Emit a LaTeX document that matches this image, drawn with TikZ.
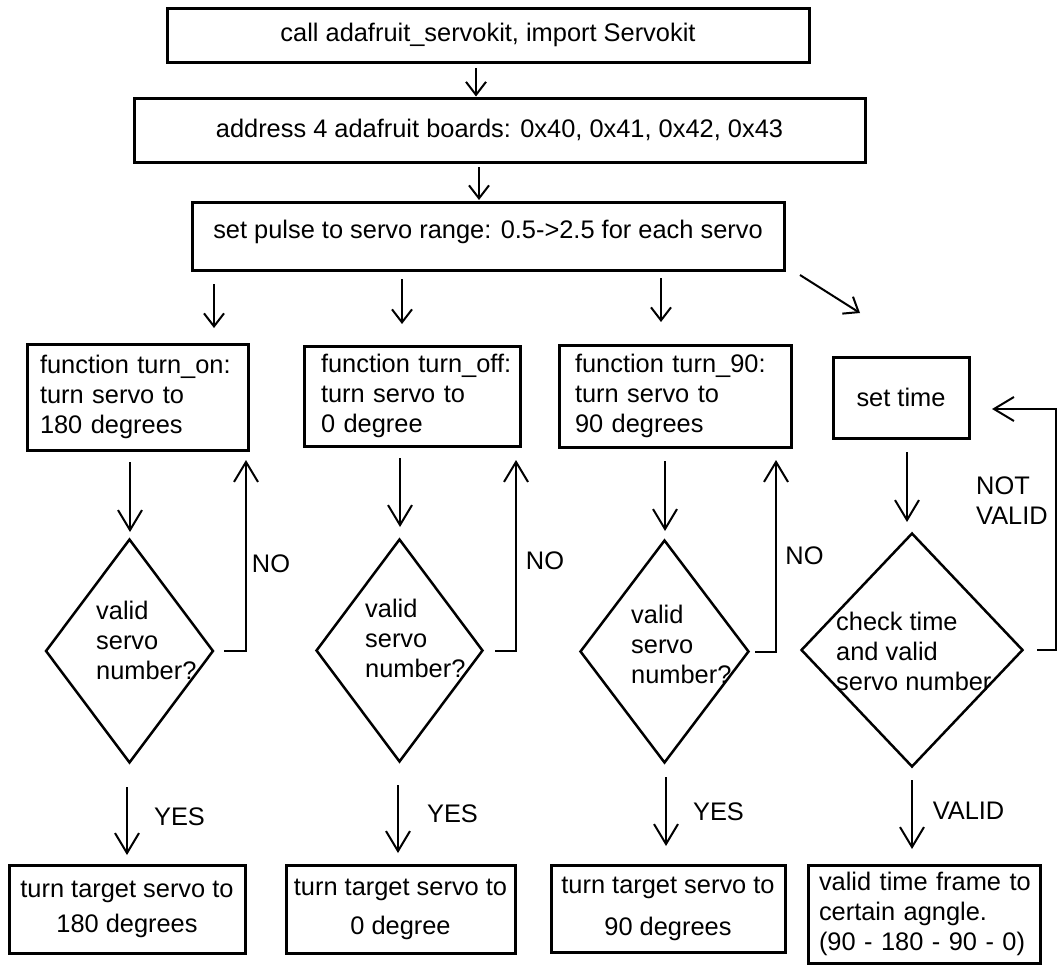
\documentclass[tikz,border=0pt]{standalone}
\usepackage{fontspec}
\setmainfont{Liberation Sans}
\usetikzlibrary{arrows.meta,shapes.geometric,calc}

\begin{document}
\begin{tikzpicture}[x=1pt, y=-1pt,
    every node/.style={inner sep=0pt, font=\fontsize{25.4}{30}\selectfont},
    box/.style={draw, line width=3pt, align=center},
    lbox/.style={draw, line width=3pt, align=left},
    dia/.style={diamond, draw, line width=2.5pt},
    arr/.style={line width=2pt, -{Straight Barb[length=20pt, width=24pt]}},
    arrs/.style={line width=2pt, -{Straight Barb[length=13pt, width=20pt]}}]
  \useasboundingbox (0,0) rectangle (1057,964); % page size of the sketch

  \node[box, minimum width=642pt, minimum height=54pt] (kit) at (488,35) {call adafruit\_servokit, import Servokit};
  \node[box, minimum width=731pt, minimum height=64pt] (addr) at (499.5,130) {address 4 adafruit boards: 0x40, 0x41, 0x42, 0x43};
  \node[box, minimum width=592pt, minimum height=68pt, text depth=14pt] (pulse) at (488,236) {set pulse to servo range: 0.5->2.5 for each servo};

  \draw[arrs, shorten <=4.5pt] (kit.south -| 476,0) -- (addr.north -| 476,0);
  \draw[arrs, shorten <=3.5pt, shorten >=0.5pt] (addr.south -| 479,0) -- (pulse.north -| 479,0);

 % -------------------

  \node[lbox, minimum height=106pt, text width=195pt, inner xsep=13pt] (on) at (137.5,397) {\mbox{function turn\_on:}\\turn servo to\\180 degrees};
  \node[lbox, minimum height=100pt, text width=182pt, inner xsep=17pt] (off) at (412,396) {\mbox{function turn\_off:}\\turn servo to\\0 degree};
  \node[lbox, minimum height=102pt, text width=200pt, inner xsep=16pt] (ninety) at (675,396) {\mbox{function turn\_90:}\\turn servo to\\90 degrees};
  \node[box, minimum width=136pt, minimum height=81pt] (settime) at (901,397.5) {set time};

  \draw[arrs, shorten <=12.5pt, shorten >=14.5pt] (pulse.south -| 214,0) -- (on.north -| 214,0);
  \draw[arrs, shorten <=7.5pt, shorten >=20.5pt] (pulse.south -| 402,0) -- (off.north -| 402,0);
  \draw[arrs, shorten <=6.5pt, shorten >=21.5pt] (pulse.south -| 661,0) -- (ninety.north -| 661,0);
  \draw[arrs] ($(pulse.south east)+(14.5,3.5)$) -- ($(settime.north)+(-41,-42.5)$);

  \foreach \q/\x/\y/\w/\h/\tx/\ty in {a/129.5/651/168pt/224pt/96/640, b/399.5/650.5/167pt/223pt/365/638, c/664.5/651.5/169pt/223pt/631/644} {
    \node[dia, minimum width=\w, minimum height=\h] (q\q) at (\x,\y) {};
    \node[anchor=west, align=left] (t\q) at (\tx,\ty) {valid\\servo\\number?};
  }
  \node[dia, minimum width=222pt, minimum height=234pt] (qd) at (912,650) {};
  \node[anchor=west, align=left] (td) at (836,651) {check time\\and valid\\servo number};

  \draw[arr, shorten <=10.5pt, shorten >=5.75pt] (on.south -| 130,0) -- (qa.north -| 130,0);
  \draw[arr, shorten <=10.5pt, shorten >=10.75pt] (off.south -| 400,0) -- (qb.north -| 400,0);
  \draw[arr, shorten <=12.5pt, shorten >=7.75pt] (ninety.south -| 665,0) -- (qc.north -| 665,0);
  \draw[arr, shorten <=12.5pt, shorten >=9.75pt] (settime.south -| 907,0) -- (qd.north -| 907,0);

  % back to the function box when the number is wrong
  \draw[arr, shorten <=9.25pt, shorten >=8.5pt] (qa.east) -| ([xshift=-3.5pt]on.south east);
  \draw[arr, shorten <=10.75pt, shorten >=12.5pt] (qb.east) -| ([xshift=-5.5pt]off.south east);
  \draw[arr, shorten <=4.75pt, shorten >=11.5pt] (qc.east) -| ([xshift=-16.5pt]ninety.south east);
  \coordinate (loopd) at (1056,409);
  \draw[arr, shorten <=12.75pt, shorten >=21.5pt] (qd.east) -| (loopd) -- (settime.east |- loopd);

  \node (noa) at (271,564) {NO};
  \node (nob) at (545,561) {NO};
  \node (noc) at (804.5,556) {NO};
  \node[anchor=west, align=left] (notvalid) at (976,501) {NOT\\VALID};

 % -------------------

  \node[box, minimum width=236pt, minimum height=88pt] (doa) at (127,909) {turn target servo to\\[5pt]180 degrees};
  \node[box, minimum width=229pt, minimum height=88pt] (dob) at (400.5,909) {turn target servo to\\[9pt]0 degree};
  \node[box, minimum width=234pt, minimum height=87pt] (doc) at (668,908.5) {turn target servo to\\[12pt]90 degrees};
  \node[lbox, minimum height=98pt, text width=210pt, inner xsep=11pt] (dod) at (924,914) {\mbox{valid time frame to}\\certain agngle.\\\mbox{(90 - 180 - 90 - 0)}};

  \draw[arr, shorten <=22.75pt, shorten >=8.5pt] (qa.south -| 127,0) -- (doa.north -| 127,0);
  \draw[arr, shorten <=21.75pt, shorten >=10.5pt] (qb.south -| 398,0) -- (dob.north -| 398,0);
  \draw[arr, shorten <=12.75pt, shorten >=17.5pt] (qc.south -| 666,0) -- (doc.north -| 666,0);
  \draw[arr, shorten <=11.75pt, shorten >=14.5pt] (qd.south -| 912,0) -- (dod.north -| 912,0);

  \node (yesa) at (179.5,817) {YES};
  \node (yesb) at (452.5,814) {YES};
  \node (yesc) at (718.5,812) {YES};
  \node (valid) at (968.5,811) {VALID};
\end{tikzpicture}
\end{document}
